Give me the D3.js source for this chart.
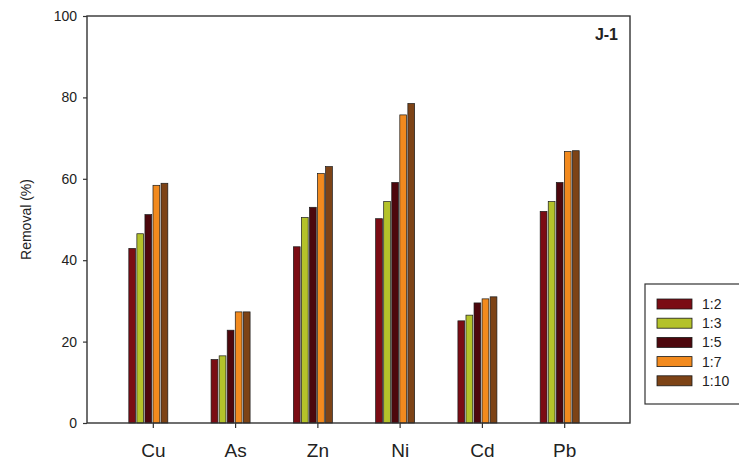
<!DOCTYPE html>
<html>
<head>
<meta charset="utf-8">
<script src="https://cdn.jsdelivr.net/npm/d3@7"></script>
<style>
  body { margin: 0; background: #fff; }
  text { font-family: Arial, "Liberation Sans", sans-serif; fill: #222; }
</style>
</head>
<body>
<svg id="chart" width="739" height="467"></svg>
<script>
const metals = ["Cu", "As", "Zn", "Ni", "Cd", "Pb"];
const ratios = ["1:2", "1:3", "1:5", "1:7", "1:10"];
const colors = ["#7b0c14", "#b4c22a", "#4d070d", "#f28a1e", "#7d4316"];
const yTicks = [0, 20, 40, 60, 80, 100];

// removal (%) per ratio, in metal order
const r12 = [42.9, 15.6, 43.3, 50.2, 25.1, 52.0];
const r13 = [46.5, 16.5, 50.5, 54.4, 26.5, 54.4];
const r15 = [51.2, 22.8, 53.0, 59.1, 29.5, 59.1];
const r17 = [58.4, 27.3, 61.3, 75.7, 30.5, 66.7];
const r110 = [58.9, 27.3, 63.0, 78.5, 31.0, 66.9];
const series = [r12, r13, r15, r17, r110];

const svg = d3.select("#chart");
const plotL = 87, plotR = 630, plotT = 16, plotB = 423;

const x = d3.scalePoint().domain(metals).range([plotL, plotR]).padding(0.8);
const inner = d3.scaleBand().domain(ratios).range([-24, 15]).paddingInner(0.16);
const y = d3.scaleLinear().domain([0, 100]).range([plotB, plotT]);

// bars
const rows = [];
metals.forEach((m, i) => {
    ratios.forEach((r, j) => rows.push({metal: m, ratio: r, j: j, value: series[j][i]}));
});

svg.append("g").selectAll("rect")
    .data(rows)
    .enter()
    .append("rect")
    .attr("x", d => x(d.metal) + inner(d.ratio))
    .attr("width", inner.bandwidth())
    .attr("y", d => y(d.value))
    .attr("height", d => y(0) - y(d.value))
    .attr("fill", d => colors[d.j])
    .attr("stroke", "#1a1a1a")
    .attr("stroke-width", 0.7);

// frame
svg.append("rect")
    .attr("x", plotL).attr("y", plotT)
    .attr("width", plotR - plotL).attr("height", plotB - plotT)
    .attr("fill", "none")
    .attr("stroke", "#333")
    .attr("stroke-width", 1.4);

// y axis
const yAxis = svg.append("g")
    .attr("transform", `translate(${plotL},0)`)
    .call(d3.axisLeft(y).tickValues(yTicks).tickSize(4).tickPadding(6));
yAxis.select(".domain").remove();
yAxis.selectAll("line").attr("stroke", "#333").attr("stroke-width", 1.2);
yAxis.selectAll("text").style("font-size", "14px").style("font-family", "Arial, 'Liberation Sans', sans-serif").attr("fill", "#222");

// x axis
const xAxis = svg.append("g")
    .attr("transform", `translate(0,${plotB})`)
    .call(d3.axisBottom(x).tickSize(5).tickPadding(16));
xAxis.select(".domain").remove();
xAxis.selectAll("line").attr("stroke", "#333").attr("stroke-width", 1.2);
xAxis.selectAll("text").style("font-size", "19px").style("font-family", "Arial, 'Liberation Sans', sans-serif").attr("fill", "#222");

// y label
svg.append("text")
    .attr("transform", `translate(31,${(plotT + plotB) / 2}) rotate(-90)`)
    .attr("text-anchor", "middle")
    .style("font-size", "14px")
    .text("Removal (%)");

// panel tag
svg.append("text")
    .attr("x", 618).attr("y", 40)
    .attr("text-anchor", "end")
    .style("font-size", "16px")
    .style("font-weight", "bold")
    .text("J-1");

// legend
const lg = svg.append("g");
lg.append("rect")
    .attr("x", 645).attr("y", 284)
    .attr("width", 100).attr("height", 120)
    .attr("fill", "#fff")
    .attr("stroke", "#333")
    .attr("stroke-width", 1.2);
ratios.forEach((r, j) => {
    const yy = 299 + j * 19.2;
    lg.append("rect")
        .attr("x", 657).attr("y", yy)
        .attr("width", 35).attr("height", 10)
        .attr("fill", colors[j])
        .attr("stroke", "#1a1a1a")
        .attr("stroke-width", 0.8);
    lg.append("text")
        .attr("x", 702).attr("y", yy + 10)
        .style("font-size", "14px")
        .text(r);
});
</script>
</body>
</html>
